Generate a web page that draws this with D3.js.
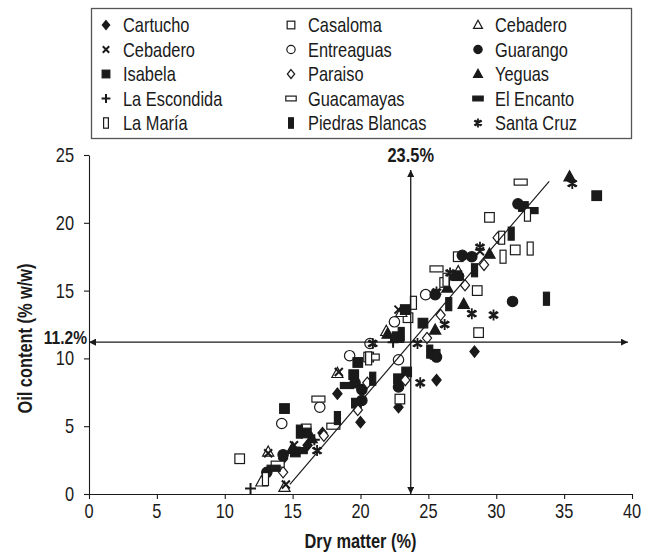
<!DOCTYPE html>
<html><head><meta charset="utf-8">
<script src="https://cdn.jsdelivr.net/npm/d3@7"></script>
<style>body{margin:0;background:#fff}</style>
</head><body>
<svg id="c" width="646" height="554"></svg>
<script>
// ---- data ----
const seriesNames = ["Cartucho","Casaloma","Cebadero","Cebadero","Entreaguas","Guarango","Isabela","Paraiso","Yeguas","La Escondida","Guacamayas","El Encanto","La María","Piedras Blancas","Santa Cruz"];
const seriesShapes = ["diamondF","squareO","triangleO","cross","circleO","circleF","squareF","diamondO","triangleF","plus","hrectO","hrectF","vrectO","vrectF","star"];
const Cartucho = [[14.3,2.6],[16.1,3.6],[17.2,4.5],[18.3,7.4],[20.0,5.3],[22.8,6.4],[25.6,8.4],[28.4,10.5]];
const Casaloma = [[11.1,2.6],[16.0,4.8],[20.6,10.1],[22.9,7.0],[23.5,13.0],[26.2,15.6],[27.2,17.5],[28.6,15.0],[28.7,11.9],[29.5,20.4],[31.4,18.0]];
const CebaderoTri = [[12.7,0.9],[13.2,3.1],[14.4,0.5],[15.0,3.4],[18.3,8.9],[21.9,12.0],[23.0,13.4],[27.2,16.4]];
const CebaderoX = [[13.2,3.0],[14.5,0.7],[15.1,3.6],[18.4,9.0],[22.8,13.6],[28.8,17.9]];
const Entreaguas = [[14.2,5.2],[17.0,6.4],[19.2,10.2],[20.7,11.1],[22.5,12.7],[22.8,9.9],[24.8,14.7]];
const Guarango = [[13.1,1.6],[14.3,2.9],[19.6,8.2],[20.1,7.7],[20.1,6.9],[22.8,7.9],[25.6,10.1],[25.5,14.7],[27.5,17.6],[28.2,17.5],[31.2,14.2],[31.6,21.4]];
const Isabela = [[14.4,6.3],[15.2,3.1],[16.0,4.5],[19.5,8.8],[19.7,6.7],[19.8,9.7],[22.7,11.6],[22.8,8.5],[23.3,13.6],[23.4,9.0],[24.6,12.6],[25.5,10.3],[27.1,16.1],[32.0,21.2],[37.4,22.0]];
const Paraiso = [[14.3,1.6],[17.3,4.3],[19.8,6.2],[20.5,8.2],[23.3,8.4],[24.9,11.5],[25.9,13.2],[27.7,15.4],[29.1,16.9],[30.1,18.9]];
const Yeguas = [[15.0,3.3],[16.4,4.1],[22.0,11.8],[25.5,12.1],[26.4,15.2],[27.6,14.0],[29.5,17.7],[35.4,23.4]];
const LaEscondida = [[11.9,0.4],[16.6,4.0],[22.4,11.2]];
const Guacamayas = [[13.9,2.2],[16.9,7.0],[18.0,5.0],[20.9,10.1],[25.6,16.6],[31.8,23.0]];
const ElEncanto = [[13.6,1.9],[15.6,3.2],[19.0,8.0],[22.7,11.4],[27.1,16.0],[32.6,20.9]];
const LaMaria = [[13.0,1.1],[20.6,10.0],[23.9,14.1],[26.3,15.8],[30.4,18.9],[30.5,17.5],[32.3,20.6],[32.5,18.1]];
const PiedrasBlancas = [[15.5,4.6],[18.3,5.6],[20.9,8.5],[23.0,11.8],[25.1,10.5],[26.5,14.0],[28.4,16.5],[31.1,19.2],[33.7,14.4]];
const SantaCruz = [[16.8,3.2],[20.9,11.1],[24.2,11.1],[24.4,8.2],[25.6,14.9],[26.2,12.5],[26.6,16.3],[28.2,13.3],[28.8,18.2],[29.8,13.2],[35.6,22.9]];
const seriesValues = [Cartucho,Casaloma,CebaderoTri,CebaderoX,Entreaguas,Guarango,Isabela,Paraiso,Yeguas,LaEscondida,Guacamayas,ElEncanto,LaMaria,PiedrasBlancas,SantaCruz];
const legendOrder = [0,1,2,3,4,5,6,7,8,9,10,11,12,13,14];
const xTicks = [0,5,10,15,20,25,30,35,40];
const yTicks = [0,5,10,15,20,25];
const xTitle = "Dry matter (%)";
const yTitle = "Oil content (% w/w)";
const refX = 23.7, refXLabel = "23.5%", refXTop = 23.9;
const refY = 11.2, refYLabel = "11.2%", refYRight = 39.7;
const trendSlope = 1.17, trendIntercept = -16.6, trendRange = [14.8, 33.9];

// ---- drawing ----
const FONT = "'Liberation Sans Narrow','Arial Narrow','Liberation Sans',Arial,sans-serif";
const FS = 20, SX = 0.82;
const INK = "#1a1a1a";
const svg = d3.select("#c");
const x = d3.scaleLinear().domain([0,40]).range([89,632]);
const y = d3.scaleLinear().domain([0,25]).range([494,155]);

function ctext(parent, tx, ty, str, opts={}) {
  const t = parent.append("text")
    .attr("transform", `translate(${tx},${ty})${opts.rot?` rotate(${opts.rot})`:""} scale(${SX},1)`)
    .attr("x",0).attr("y",0)
    .attr("font-family",FONT).attr("font-size",opts.fs||FS).attr("fill",INK)
    .attr("text-anchor",opts.anchor||"start").text(str);
  if (opts.bold) t.attr("font-weight","bold");
  return t;
}

const defs = svg.append("defs");
defs.append("marker").attr("id","arr").attr("viewBox","0 0 10 10")
  .attr("refX",10).attr("refY",5).attr("markerWidth",7).attr("markerHeight",7)
  .attr("markerUnits","userSpaceOnUse").attr("orient","auto-start-reverse")
  .append("path").attr("d","M0,0L10,5L0,10Z").attr("fill",INK);

const lg = svg.append("g");
lg.append("rect").attr("x",91.5).attr("y",8.5).attr("width",540).attr("height",130)
  .attr("fill","none").attr("stroke","#555").attr("stroke-width",1.3);

function drawShape(g, shape, cx, cy, k) {
  switch(shape){
    case "diamondF": case "diamondO":
      g.append("path").attr("d",`M${cx},${cy-5.6*k}L${cx+4.6*k},${cy}L${cx},${cy+5.6*k}L${cx-4.6*k},${cy}Z`)
        .attr("fill",shape==="diamondF"?INK:"#fff").attr("stroke",INK).attr("stroke-width",1.2); break;
    case "squareO": case "squareF":
      g.append("rect").attr("x",cx-4.8*k).attr("y",cy-4.8*k).attr("width",9.6*k).attr("height",9.6*k)
        .attr("fill",shape==="squareF"?INK:"#fff").attr("stroke",INK).attr("stroke-width",1.2); break;
    case "triangleO": case "triangleF":
      g.append("path").attr("d",`M${cx},${cy-6*k}L${cx+5.6*k},${cy+4.2*k}L${cx-5.6*k},${cy+4.2*k}Z`)
        .attr("fill",shape==="triangleF"?INK:"#fff").attr("stroke",INK).attr("stroke-width",1.2); break;
    case "circleO": case "circleF":
      g.append("circle").attr("cx",cx).attr("cy",cy).attr("r",5.2*k)
        .attr("fill",shape==="circleF"?INK:"#fff").attr("stroke",INK).attr("stroke-width",1.2); break;
    case "cross":
      g.append("path").attr("d",`M${cx-4*k},${cy-4*k}L${cx+4*k},${cy+4*k}M${cx-4*k},${cy+4*k}L${cx+4*k},${cy-4*k}`)
        .attr("stroke",INK).attr("stroke-width",2).attr("fill","none"); break;
    case "plus":
      g.append("path").attr("d",`M${cx-5.5*k},${cy}L${cx+5.5*k},${cy}M${cx},${cy-5.5*k}L${cx},${cy+5.5*k}`)
        .attr("stroke",INK).attr("stroke-width",2).attr("fill","none"); break;
    case "hrectO": case "hrectF":
      g.append("rect").attr("x",cx-6.5*k).attr("y",cy-3*k).attr("width",13*k).attr("height",6*k)
        .attr("fill",shape==="hrectF"?INK:"#fff").attr("stroke",INK).attr("stroke-width",1.2); break;
    case "vrectO": case "vrectF":
      g.append("rect").attr("x",cx-3*k).attr("y",cy-6.5*k).attr("width",6*k).attr("height",13*k)
        .attr("fill",shape==="vrectF"?INK:"#fff").attr("stroke",INK).attr("stroke-width",1.2); break;
    case "star":
      g.append("path").attr("d",`M${cx},${cy-5.5*k}L${cx},${cy+5.5*k}M${cx-4.8*k},${cy-2.8*k}L${cx+4.8*k},${cy+2.8*k}M${cx-4.8*k},${cy+2.8*k}L${cx+4.8*k},${cy-2.8*k}M${cx-3.5*k},${cy-3.5*k}L${cx+3.5*k},${cy+3.5*k}M${cx-3.5*k},${cy+3.5*k}L${cx+3.5*k},${cy-3.5*k}`)
        .attr("stroke",INK).attr("stroke-width",1.8).attr("fill","none"); break;
  }
}

const colX = [106,291,478], rowY = d3.range(5).map(i=>25+i*24.5);
legendOrder.forEach((si,i)=>{
  const c = i%3, r = Math.floor(i/3);
  drawShape(lg, seriesShapes[si], colX[c], rowY[r], 0.8);
  ctext(lg, colX[c]+17, rowY[r]+7, seriesNames[si]);
});

const xAxis = svg.append("g").attr("transform",`translate(0,${y(0)})`)
  .call(d3.axisBottom(x).tickValues(xTicks).tickSize(5).tickSizeOuter(0).tickFormat(""));
const yAxis = svg.append("g").attr("transform",`translate(${x(0)},0)`)
  .call(d3.axisLeft(y).tickValues(yTicks).tickSize(5).tickSizeOuter(0).tickFormat(""));
[xAxis,yAxis].forEach(a=>{
  a.selectAll("path,line").attr("stroke",INK).attr("stroke-width",1.1);
});
const tickLabels = svg.append("g");
xTicks.forEach(v=>ctext(tickLabels, x(v), y(0)+24, String(v), {anchor:"middle"}));
yTicks.forEach(v=>ctext(tickLabels, x(0)-15, y(v)+7, String(v), {anchor:"end"}));

ctext(svg, (x(0)+x(40))/2, 548, xTitle, {anchor:"middle", bold:true});
ctext(svg, 32, (y(0)+y(25))/2+14, yTitle, {anchor:"middle", bold:true, rot:-90});

const pg = svg.append("g");
seriesValues.forEach((vals,si)=>{
  vals.forEach(d=>drawShape(pg, seriesShapes[si], x(d[0]), y(d[1]), 1));
});

const tl = trendRange.map(v=>[v, trendIntercept+trendSlope*v]);
svg.append("line").attr("x1",x(tl[0][0])).attr("y1",y(tl[0][1])).attr("x2",x(tl[1][0])).attr("y2",y(tl[1][1]))
  .attr("stroke",INK).attr("stroke-width",1.2);

svg.append("line").attr("x1",x(refX)).attr("x2",x(refX)).attr("y1",y(0)).attr("y2",y(refXTop))
  .attr("stroke",INK).attr("stroke-width",1.3).attr("marker-start","url(#arr)").attr("marker-end","url(#arr)");
svg.append("line").attr("x1",x(0)).attr("x2",x(refYRight)).attr("y1",y(refY)).attr("y2",y(refY))
  .attr("stroke",INK).attr("stroke-width",1.3).attr("marker-start","url(#arr)").attr("marker-end","url(#arr)");
ctext(svg, x(refX), y(refXTop)-8, refXLabel, {anchor:"middle", bold:true});
ctext(svg, x(0)-2, y(refY)+2, refYLabel, {anchor:"end", bold:true, fs:19});
</script>
</body></html>
